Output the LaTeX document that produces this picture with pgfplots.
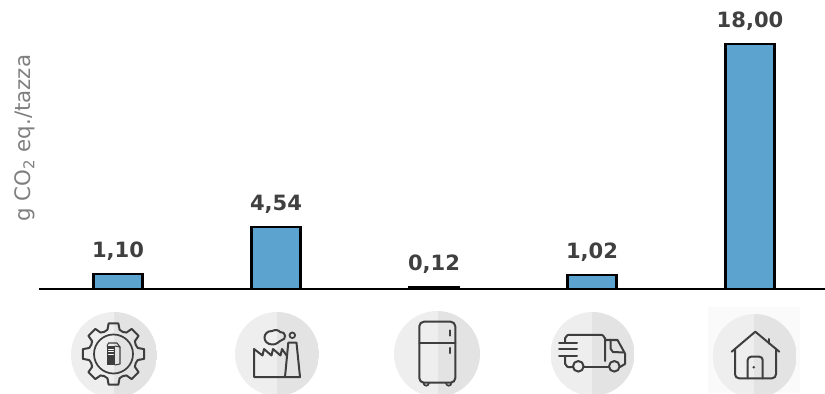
\documentclass[border=0pt]{standalone}
\usepackage{pgfplots}
\pgfplotsset{compat=1.18}
\usepackage{fontspec}
\setmainfont{DejaVu Sans}
\definecolor{barblue}{HTML}{5CA3CF}
\definecolor{labeldark}{HTML}{404040}
\definecolor{axisgrey}{HTML}{7F7F7F}
\definecolor{discleft}{HTML}{EEEEEE}
\definecolor{discright}{HTML}{E3E3E3}
\definecolor{iconline}{HTML}{3E3E3E}

% Two-tone disc behind each life-cycle icon
\newcommand{\disc}[4]{%
  \begin{scope}
    \clip (#1,#2) circle (#3);
    \fill[discleft] (#1-#3,#2-#3) rectangle (#4,#2+#3);
    \fill[discright] (#4,#2-#3) rectangle (#1+#3,#2+#3);
  \end{scope}}

\begin{document}
\begin{tikzpicture}
  \path[use as bounding box] (0,0) rectangle (618.75pt,294.75pt);

  \begin{axis}[
    at={(29.25pt,78pt)}, anchor=south west,
    scale only axis, width=589.5pt, height=183.75pt,
    xmin=-0.5, xmax=4.4747, ymin=0, ymax=18,
    axis y line*=left, axis x line*=bottom,
    y axis line style={draw=none},
    x axis line style={line width=1.5pt, -},
    xtick=\empty, ytick=\empty,
    clip=false,
    ybar, bar width=36.75pt,
    ylabel={g CO\textsubscript{2} eq./tazza},
    ylabel style={at={(axis description cs:-0.0175,0.616)}, anchor=center,
      font=\fontsize{16pt}{19pt}\selectfont, text=axisgrey},
    nodes near coords,
    nodes near coords style={
      font=\fontsize{15.8pt}{18pt}\selectfont\bfseries, text=labeldark,
      anchor=south, yshift=6pt,
      /pgf/number format/.cd, use comma, fixed, fixed zerofill, precision=2,
      assume math mode=true},
  ]
    \addplot[fill=barblue, draw=black, line width=1.55pt]
      coordinates {(0,1.10) (1,4.54) (2,0.12) (3,1.02) (4,18.00)};
  \end{axis}

  % Icons row, laid out in a top-left pixel grid
  \begin{scope}[shift={(0,294.75pt)}, x=0.75pt, y=-0.75pt]
    \clip (0,0) rectangle (825,393);
    \fill[black!2] (708,307) rectangle (800,393);
    \disc{114}{355}{43}{114}
    \disc{277}{354}{42}{277}
    \disc{437}{354}{43}{438}
    \disc{592.5}{354}{42}{592}
    \disc{754.7}{356}{42}{754}

    \begin{scope}[draw=iconline, line width=1.5pt, line join=round, line cap=round]
      % gear with a milk carton
      \begin{scope}[shift={(113.5,354)}]
        \draw (-14:25)
          \foreach \a in {0,45,...,315}{
            -- (\a-14:25) -- (\a-9:31) -- (\a+9:31) -- (\a+14:25)
            -- (\a+22.5:24)
          } -- cycle;
        \draw[line width=1.3pt] (0,0) circle (19.5);
      \end{scope}
      \fill[iconline] (107,346) rectangle (115,365);
      \draw[line width=0.8pt] (115,346) -- (120,347) -- (120,364) -- (115,365);
      \draw[line width=0.8pt] (107,346) -- (108.5,343) -- (117,343) -- (120,347);
      \draw[white, line width=0.5pt] (108.5,349) -- (113.5,349) (108.5,351.5) -- (113.5,351.5) (108.5,354) -- (113.5,354);

      % factory
      \draw (254,349) -- (254,377) -- (300,377) -- (296.5,342.7) -- (288.3,342.7) -- (285,377);
      \draw (254,349) -- (262.5,355.5) -- (264,349) -- (271.5,355.5) -- (273,349)
        -- (280.5,355.5) -- (282,349) -- (287,356);
      \draw (272,344.5) .. controls (262,344) and (262,331) .. (272,331)
        .. controls (275,329.5) and (279,330) .. (280,332)
        .. controls (286,331) and (287,340) .. (281,340.5)
        .. controls (279,341) and (277,345) .. (272,344.5);
      \draw[line width=1.3pt] (292.3,335.3) circle (2.8);

      % fridge
      \draw[rounded corners=3.5pt] (419.3,321.7) rectangle (455.3,382.7);
      \draw (419.3,343.3) -- (455.3,343.3);
      \draw[line width=1.8pt] (450,330.5) -- (450,335.5) (450,348) -- (450,353);
      \draw[line width=1.3pt] (423.5,383) arc[start angle=180, end angle=0, radius=2.7];
      \draw[line width=1.3pt] (446,383) arc[start angle=180, end angle=0, radius=2.7];

      % delivery truck
      \draw (565,342) -- (565,338) to[out=-90, in=180] (568,335) -- (602,335) to[out=0, in=-90] (605,338) -- (605,361);
      \draw (559,342.7) -- (577,342.7) (559,349.3) -- (577,349.3) (559,356) -- (577,356);
      \draw (565,356) -- (565,364) to[out=90, in=180] (568,367) -- (573,367);
      \draw[line width=2pt] (584,367) -- (608.5,367);
      \draw (605,340) -- (617.5,340) -- (625,353.5) -- (625,364) -- (620,367);
      \draw (610.7,340) -- (610.7,349) -- (613,352) -- (624,352.5);
      \draw (578.3,366.3) circle (5.3);
      \draw (614.3,366.3) circle (5.3);

      % house
      \draw (731.7,351.7) -- (755.3,331.7) -- (779.3,351.7);
      \draw (769.3,339) -- (769.3,343.5);
      \draw[rounded corners=3pt] (735,349) -- (735,378.3) -- (776,378.3) -- (776,349);
      \draw[rounded corners=2.5pt] (747.7,378.3) -- (747.7,356.7) -- (762.7,356.7) -- (762.7,378.3);
      \fill[iconline] (753.7,367.3) circle (1.4);
    \end{scope}
  \end{scope}
\end{tikzpicture}
\end{document}
